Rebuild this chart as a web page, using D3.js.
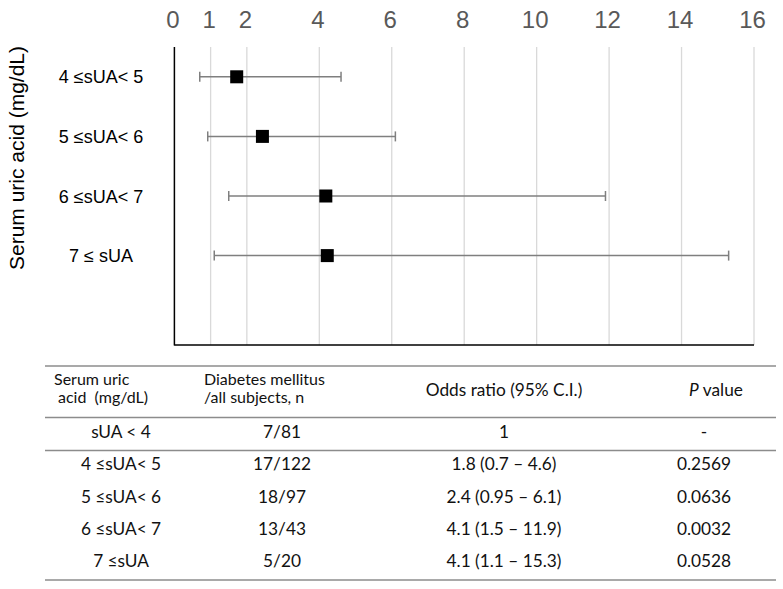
<!DOCTYPE html>
<html><head><meta charset="utf-8">
<script src="https://cdn.jsdelivr.net/npm/d3@7/dist/d3.min.js"></script>
<style>
html,body{margin:0;padding:0;background:#fff;}
svg{display:block;}
text{white-space:pre;}
</style></head>
<body><svg id="c" width="783" height="589"></svg>
<script>
// ---- data ----
const categories = ["4 \u2264sUA< 5", "5 \u2264sUA< 6", "6 \u2264sUA< 7", "7 \u2264 sUA", ""];
const oddsRatio = [1.72, 2.43, 4.18, 4.22];
const ciLow = [0.7, 0.92, 1.5, 1.1];
const ciHigh = [4.6, 6.1, 11.9, 15.3];
const xTicks = [0, 1, 2, 4, 6, 8, 10, 12, 14, 16];

const tableHeader1 = ["Serum uric", "acid  (mg/dL)"];
const tableHeader2 = ["Diabetes mellitus", "/all subjects, n"];
const tableGroups = ["sUA < 4", "4 \u2264sUA< 5", "5 \u2264sUA< 6", "6 \u2264sUA< 7", "7 \u2264sUA"];
const tableCounts = ["7/81", "17/122", "18/97", "13/43", "5/20"];
const tableOR = ["1", "1.8 (0.7 \u2013 4.6)", "2.4 (0.95 \u2013 6.1)", "4.1 (1.5 \u2013 11.9)", "4.1 (1.1 \u2013 15.3)"];
const tablePvals = ["-", "0.2569", "0.0636", "0.0032", "0.0528"];

// ---- chart ----
const svg = d3.select("#c");
const x = d3.scaleLinear().domain([0, 16]).range([174.4, 754]);
const y = d3.scaleBand().domain(categories.map((c, i) => i)).range([47, 345]);

const g = svg.append("g");
g.selectAll("line.grid").data(xTicks.filter(t => t > 0)).join("line")
  .attr("x1", d => x(d)).attr("x2", d => x(d))
  .attr("y1", 47).attr("y2", 345)
  .attr("stroke", "#d9d9d9").attr("stroke-width", 1.3);

const ax = d3.axisTop(x).tickValues(xTicks).tickSize(0).tickPadding(0);
const axG = svg.append("g").attr("transform", "translate(-2,28)").call(ax);
axG.select(".domain").remove();
axG.selectAll("text").attr("font-family", "Liberation Sans, Arial, sans-serif")
  .attr("font-size", 24).attr("fill", "#595959").attr("dy", 0);

svg.append("line").attr("x1", x(0)).attr("x2", x(0)).attr("y1", 47).attr("y2", 345.5)
  .attr("stroke", "#000").attr("stroke-width", 1.5);
svg.append("line").attr("x1", x(0)).attr("x2", x(16)).attr("y1", 345).attr("y2", 345)
  .attr("stroke", "#000").attr("stroke-width", 1.5);

svg.selectAll("text.cat").data(categories.filter(c => c)).join("text")
  .attr("x", 101).attr("y", (d, i) => y(i) + y.bandwidth() / 2 + 6.5)
  .attr("text-anchor", "middle")
  .attr("font-family", "Liberation Sans, Arial, sans-serif").attr("font-size", 18)
  .attr("fill", "#000").text(d => d);

const eb = svg.append("g");
oddsRatio.forEach((v, i) => {
  const cy = y(i) + y.bandwidth() / 2;
  eb.append("line").attr("x1", x(ciLow[i])).attr("x2", x(ciHigh[i])).attr("y1", cy).attr("y2", cy)
    .attr("stroke", "#7f7f7f").attr("stroke-width", 1.5);
  [ciLow[i], ciHigh[i]].forEach(c => {
    eb.append("line").attr("x1", x(c)).attr("x2", x(c)).attr("y1", cy - 5).attr("y2", cy + 5)
      .attr("stroke", "#7f7f7f").attr("stroke-width", 1.5);
  });
  eb.append("rect").attr("x", x(v) - 6.5).attr("y", cy - 6.5).attr("width", 13).attr("height", 13)
    .attr("fill", "#000");
});

svg.append("text").attr("transform", "translate(24,158) rotate(-90)")
  .attr("text-anchor", "middle")
  .attr("font-family", "Liberation Sans, Arial, sans-serif").attr("font-size", 21)
  .attr("fill", "#000").text("Serum uric acid (mg/dL)");

// ---- table ----
const tf = "Lato, 'Open Sans', sans-serif";
const tfs = 17.3;
const tcol = "#111";
[366, 417.5, 450.5, 580].forEach(ly => {
  svg.append("line").attr("x1", 45).attr("x2", 776).attr("y1", ly).attr("y2", ly)
    .attr("stroke", "#8c8c8c").attr("stroke-width", 1.5);
});
const T = svg.append("g").attr("font-family", tf).attr("font-size", tfs).attr("fill", tcol);
const hfs = 16;
const h1 = T.append("text").attr("font-size", hfs);
h1.append("tspan").attr("x", 54).attr("y", 385).text(tableHeader1[0]);
h1.append("tspan").attr("x", 58).attr("y", 403).text(tableHeader1[1]);
const h2 = T.append("text").attr("font-size", hfs);
h2.append("tspan").attr("x", 204).attr("y", 385).text(tableHeader2[0]);
h2.append("tspan").attr("x", 204).attr("y", 403).text(tableHeader2[1]);
T.append("text").attr("x", 504).attr("y", 396).attr("text-anchor", "middle").text("Odds ratio (95% C.I.)");
const pv = T.append("text").attr("x", 716).attr("y", 396).attr("text-anchor", "middle");
pv.append("tspan").attr("font-style", "italic").text("P");
pv.append("tspan").text(" value");

const rowY = [438, 470, 502.5, 535, 567];
const cols = [[tableGroups, 121], [tableCounts, 282], [tableOR, 504], [tablePvals, 704]];
cols.forEach(([arr, cx]) => {
  T.selectAll(null).data(arr).join("text")
    .attr("x", cx).attr("y", (d, i) => rowY[i]).attr("text-anchor", "middle").text(d => d);
});
</script></body></html>
